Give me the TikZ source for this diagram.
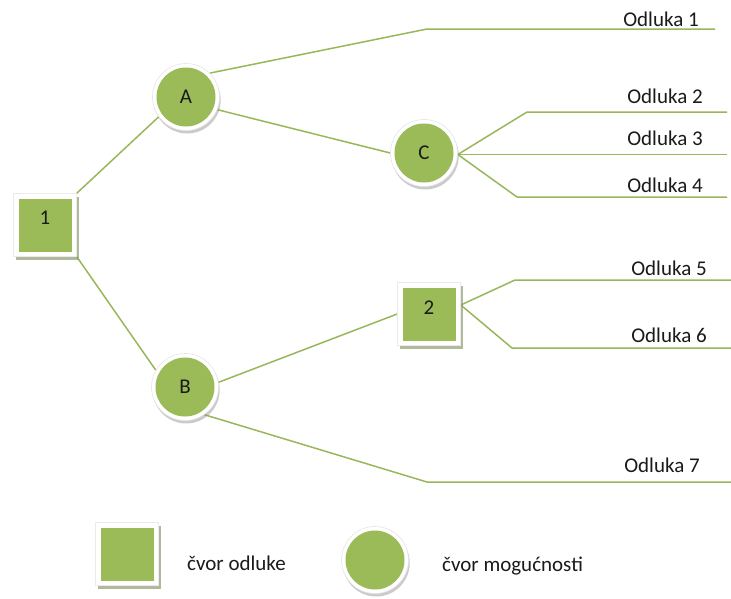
\documentclass[tikz,border=0pt]{standalone}
\usepackage{fontspec}
\setmainfont{Carlito}
\usetikzlibrary{shadows,backgrounds}

\definecolor{leaf}{HTML}{9BBB59}
\definecolor{branch}{HTML}{98B75A}
\definecolor{ink}{HTML}{1A1A1A}
\newcommand\treefont{\fontsize{21}{25}\selectfont}

\tikzset{
  every node/.append style={font=\treefont, text=ink},
  ringshadow/.style={drop shadow={shadow xshift=1.2pt, shadow yshift=-3pt, fill=black!45, opacity=0.45}},
  chance/.style={circle, minimum size=67pt, inner sep=0pt, fill=white,
    draw=black!10, line width=0.6pt, ringshadow,
    path picture={\fill[leaf] (path picture bounding box.center) circle (29.5pt);}},
  decision/.style={rectangle, minimum size=63pt, inner sep=0pt, fill=white,
    draw=black!8, line width=0.6pt,
    drop shadow={shadow xshift=2.5pt, shadow yshift=-3pt, fill=black!40!leaf!70, opacity=0.7},
    path picture={\fill[leaf] ([shift={(-26.5pt,-26.5pt)}]path picture bounding box.center) rectangle ++(53pt,53pt);}},
  edge/.style={draw=branch, line width=1.5pt},
  outcome/.style={anchor=base, inner sep=0pt},
  legendtext/.style={anchor=base west, inner sep=0pt}
}

\begin{document}
\begin{tikzpicture}[x=1pt, y=-1pt]
  \useasboundingbox (0,0) rectangle (731,598);

  % decision and chance nodes
  \node[decision, label={[yshift=7pt]center:1}] (n1) at (45,225) {};
  \node[chance] (nA) at (186,97) {A};
  \node[chance] (nB) at (185,387) {B};
  \node[chance] (nC) at (424,153) {C};
  \node[decision, label={[yshift=6pt]center:2}] (n2) at (429,314) {};

  % bend points and free ends of the outcome branches
  \coordinate (fanC) at ([yshift=-1.5pt]nC.east);
  \coordinate (b1) at (427,29);  \coordinate (e1) at (715,29);
  \coordinate (b2) at (527,112); \coordinate (e2) at (727,112);
  \coordinate (e3) at (727,154.5);
  \coordinate (b4) at (517,197); \coordinate (e4) at (727,197);
  \coordinate (b5) at (515,280); \coordinate (e5) at (731,280);
  \coordinate (b6) at (512,348); \coordinate (e6) at (731,348);
  \coordinate (b7) at (427,482); \coordinate (e7) at (731,482);
  \coordinate (fan2) at ([yshift=9pt]n2.east);

  % branches, kept underneath the nodes
  \begin{scope}[on background layer]
    \path[edge] (n1.north east) -- (nA.216);
    \path[edge] (n1.south east) -- (nB.150);
    \path[edge] (nA.45) -- (b1) -- (e1);
    \path[edge] (nA.-22) -- (nC.west);
    \path[edge] (fanC) -- (b2) -- (e2);
    \path[edge] (fanC) -- (e3);
    \path[edge] (fanC) -- (b4) -- (e4);
    \path[edge] (nB.8) -- (n2.west);
    \path[edge] (fan2) -- (b5) -- (e5);
    \path[edge] (fan2) -- (b6) -- (e6);
    \path[edge] (nB.-55) -- (b7) -- (e7);
  \end{scope}

  % outcome labels
  \node[outcome] (l1) at (661,26)  {Odluka 1};
  \node[outcome] (l2) at (665,103) {Odluka 2};
  \node[outcome] (l3) at (665,145) {Odluka 3};
  \node[outcome] (l4) at (665,192) {Odluka 4};
  \node[outcome] (l5) at (669,275) {Odluka 5};
  \node[outcome] (l6) at (669,342) {Odluka 6};
  \node[outcome] (l7) at (662,472) {Odluka 7};

  % legend
  \node[decision] (legD) at (127,554) {};
  \node[legendtext] (tD) at (187,570) {čvor odluke};
  \node[chance] (legC) at (375,560) {};
  \node[legendtext] (tC) at (442,571) {čvor mogućnosti};
\end{tikzpicture}
\end{document}
